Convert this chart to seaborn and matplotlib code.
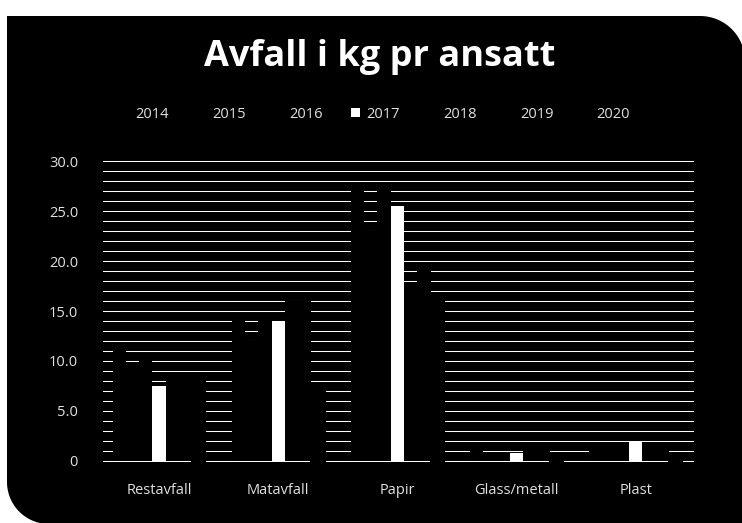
import numpy as np
import pandas as pd
import seaborn as sns
import matplotlib.pyplot as plt
from matplotlib.patches import Polygon
from matplotlib.ticker import MultipleLocator, FuncFormatter

# data (kg per employee)
categories = ["Restavfall", "Matavfall", "Papir", "Glass/metall", "Plast"]
years = ["2014", "2015", "2016", "2017", "2018", "2019", "2020"]
v2014 = [11.5, 14.5, 27.5, 1.5, 1.5]
v2015 = [9.5, 12.0, 23.0, 0.5, 1.5]
v2016 = [10.5, 14.5, 27.5, 0.5, 1.5]
v2017 = [7.5, 14.0, 25.5, 0.8, 2.0]
v2018 = [8.5, 16.0, 17.5, 1.5, 1.5]
v2019 = [8.5, 16.0, 19.0, 1.5, 1.5]
v2020 = [8.5, 7.5, 16.0, 0.5, 0.5]
bar_colors = ["black", "black", "black", "white", "black", "black", "black"]

rows = []
for year, vals in zip(years, [v2014, v2015, v2016, v2017, v2018, v2019, v2020]):
    for cat, v in zip(categories, vals):
        rows.append((cat, year, v))
df = pd.DataFrame(rows, columns=["kategori", "år", "kg"])
palette = dict(zip(years, bar_colors))

plt.rcParams["font.family"] = ["Open Sans", "DejaVu Sans"]

W, H = 742, 523
fig = plt.figure(figsize=(W / 100, H / 100), dpi=100)
fig.patch.set_facecolor("white")

# black background panel, rounded top-right and bottom-left corners
def arc(cx, cy, r, a0, a1):
    t = np.radians(np.linspace(a0, a1, 40))
    return np.column_stack([cx + r * np.cos(t), cy + r * np.sin(t)])

left, right, top, bottom = 7, 745, H - 16, -1
pts = np.vstack([
    [[left, top]],
    arc(right - 45, top - 45, 45, 90, 0),
    [[right, bottom]],
    arc(left + 42, bottom + 42, 42, 270, 180),
])
pts = pts / [W, H]
fig.patches.append(Polygon(pts, closed=True, transform=fig.transFigure,
                           facecolor="black", edgecolor="none", zorder=-1))

fig.text(380 / W, 1 - 57 / H, "Avfall i kg pr ansatt", ha="center", va="center",
         fontsize=26, fontweight="bold", color="white")

ax = fig.add_axes([103 / W, 61 / H, 591 / W, 302 / H])
ax.set_facecolor("none")

sns.barplot(data=df, x="kategori", y="kg", hue="år", palette=palette,
            width=0.78, saturation=1, linewidth=0, ax=ax)

# 2020 bars cover the zero line in the original
for p in ax.containers[-1]:
    p.set_edgecolor("black")
    p.set_linewidth(1.6)

ax.set_ylim(-0.1, 30.1)
ax.set_xlim(-0.47, 4.49)
ax.yaxis.set_major_locator(MultipleLocator(5))
ax.yaxis.set_minor_locator(MultipleLocator(1))
ax.yaxis.set_major_formatter(FuncFormatter(lambda v, _: "0" if v == 0 else f"{v:.1f}"))
ax.set_axisbelow(True)
ax.grid(which="both", axis="y", color="white", linewidth=0.75)
ax.grid(axis="x", visible=False)
for s in ax.spines.values():
    s.set_visible(False)
ax.tick_params(which="both", length=0, colors="#e0e0e0", labelsize=10.5)
ax.tick_params(axis="y", pad=18)
ax.tick_params(axis="x", pad=15)
ax.set_xlabel("")
ax.set_ylabel("")

sns.move_legend(ax, "center", bbox_to_anchor=(375.5 / W, 1 - 114 / H),
                bbox_transform=fig.transFigure, ncol=7, frameon=False, title=None,
                fontsize=10.5, handlelength=0.62, handleheight=0.62,
                handletextpad=0.4, columnspacing=1.95, labelcolor="#e0e0e0")

fig.savefig("out.png", dpi=100)
